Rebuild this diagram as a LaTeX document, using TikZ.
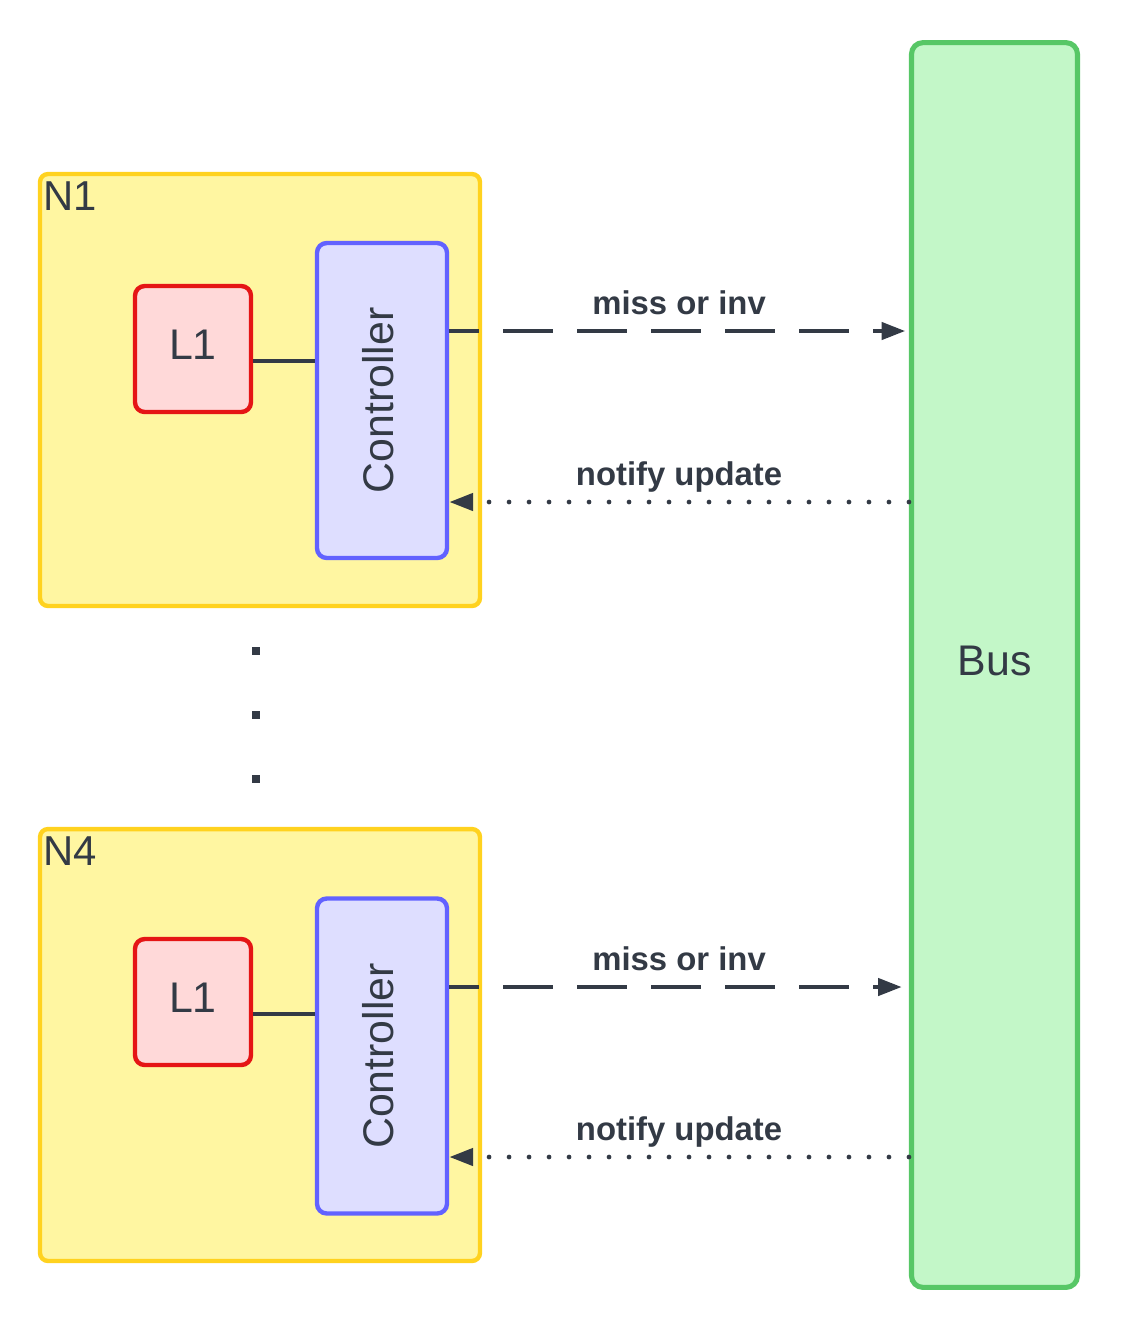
\documentclass[tikz,border=0pt]{standalone}
\usepackage{fontspec}
\setmainfont{Liberation Sans}
\usepackage{graphicx}
\usetikzlibrary{arrows.meta,positioning,calc}
\usepackage{xcolor}
\definecolor{nodeYellow}{HTML}{FFF6A1}
\definecolor{nodeBorder}{HTML}{FFD21F}
\definecolor{cacheRed}{HTML}{E51515}
\definecolor{cacheFill}{HTML}{FFD9D9}
\definecolor{ctrlBlue}{HTML}{6262FF}
\definecolor{ctrlFill}{HTML}{DEDEFF}
\definecolor{busGreen}{HTML}{57C766}
\definecolor{busFill}{HTML}{C3F7C8}
\definecolor{darkText}{HTML}{333A45}
\tikzset{
nodebox/.style={rectangle, rounded corners=4.5pt, draw=nodeBorder, fill=nodeYellow, line width=2.5pt, minimum width=8.8cm, minimum height=8.64cm, inner sep=0pt},
tag/.style={anchor=north west, inner sep=0pt, text=darkText, font=\fontsize{23.8}{28}\selectfont},
cache/.style={rectangle, rounded corners=5.5pt, draw=cacheRed, fill=cacheFill, line width=2.5pt, minimum width=2.32cm, minimum height=2.52cm, inner sep=0pt, text=darkText, font=\fontsize{24.4}{28}\selectfont},
ctrl/.style={rectangle, rounded corners=5.5pt, draw=ctrlBlue, fill=ctrlFill, line width=2.5pt, minimum width=2.6cm, minimum height=6.3cm, inner sep=0pt, text=darkText, font=\fontsize{24.4}{28}\selectfont},
bus/.style={rectangle, rounded corners=6.5pt, draw=busGreen, fill=busFill, line width=2.9pt, minimum width=3.32cm, minimum height=24.9cm, inner sep=0pt, text=darkText, font=\fontsize{24.4}{28}\selectfont},
link/.style={draw=darkText, line width=2.8pt},
missarrow/.style={draw=darkText, line width=2.7pt, dash pattern=on 1cm off 0.48cm, dash phase=0.4cm, -{Triangle[length=13.6pt,width=9.6pt]}, shorten >=2pt},
notifyarrow/.style={draw=darkText, line width=2.7pt, line cap=round, dash pattern=on 0pt off 0.4cm, -{Triangle[length=13.6pt,width=9.6pt]}},
edgelabel/.style={anchor=base, yshift=9.5pt, inner sep=0pt, text=darkText, font=\fontsize{18.7}{22}\selectfont\bfseries}
}

\begin{document}
\begin{tikzpicture}[x=0.02cm, y=-0.02cm]
\useasboundingbox (0,0) rectangle (1121,1330);
% shared bus
\node[bus] (bus) at (994.5,665) {\raisebox{2pt}{Bus\vphantom{g}}};

% node N1
\node[nodebox] (n1) at (260,390) {};
\node[tag] (n1tag) at ([shift={(5,10)}]n1.north west) {N1};
\node[cache] (l1a) at (193,349) {L1\vphantom{g}};
\node[ctrl] (ctrl1) at (382,400.5) {\rotatebox{90}{Controller\vphantom{g}}};
\coordinate (j1) at ($(l1a.east)+(0,12)$);
\draw[link] (j1) -- (j1 -| ctrl1.west);
\coordinate (o1) at ($(ctrl1.east)+(0,-69.5)$);
\draw[missarrow] (o1) -- node[edgelabel] {miss or inv} (o1 -| bus.west);
\coordinate (i1) at ($(ctrl1.east)+(0,101.5)$);
\draw[notifyarrow] (i1 -| bus.west) -- node[edgelabel] {notify update} (i1);

% dots between the nodes
\foreach \y in {651,715,779}{
\fill[darkText] (252,\y-4) rectangle (260,\y+4);
}

% node N4
\node[nodebox] (n4) at (260,1045) {};
\node[tag] (n4tag) at ([shift={(5,10)}]n4.north west) {N4};
\node[cache] (l1d) at (193,1002) {L1\vphantom{g}};
\node[ctrl] (ctrl4) at (382,1056) {\rotatebox{90}{Controller\vphantom{g}}};
\coordinate (j4) at ($(l1d.east)+(0,12)$);
\draw[link] (j4) -- (j4 -| ctrl4.west);
\coordinate (o4) at ($(ctrl4.east)+(0,-69)$);
\draw[missarrow, shorten >=4pt] (o4) -- node[edgelabel] {miss or inv} (o4 -| bus.west);
\coordinate (i4) at ($(ctrl4.east)+(0,101)$);
\draw[notifyarrow] (i4 -| bus.west) -- node[edgelabel] {notify update} (i4);
\end{tikzpicture}
\end{document}
